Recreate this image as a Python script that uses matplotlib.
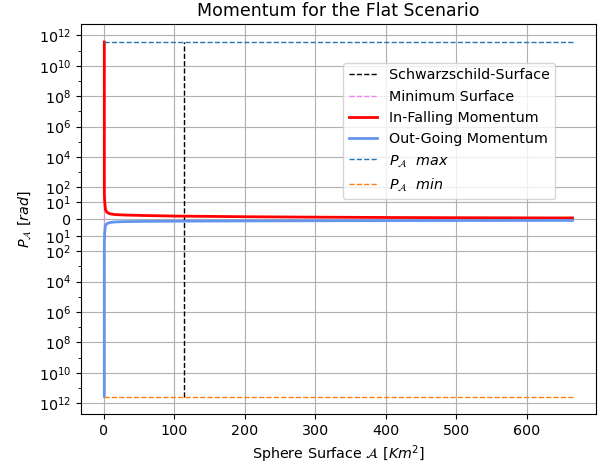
import matplotlib
matplotlib.use("Agg")
import matplotlib.pyplot as plt
from matplotlib.ticker import FixedLocator, FixedFormatter

# values
surface = [0.5, 0.5001, 0.501, 0.51, 0.6, 1, 2, 4, 8, 15, 30, 60, 100,
           200, 300, 400, 500, 600, 665]
p_in = [3.7e11, 1e5, 1e3, 100, 30, 12, 6, 4.2, 3.3, 2.8, 2.5, 2.2, 1.9,
        1.5, 1.25, 1.05, 0.92, 0.82, 0.78]
p_out = [-3.7e11, -1e5, -1e3, -100, -25, -8, -4, -2.6, -2.0, -1.6, -1.4,
         -1.25, -1.15, -1.0, -0.9, -0.82, -0.76, -0.72, -0.7]

schwarzschild_surface = 113
minimum_surface = 0.5
p_max = 3.7e11
p_min = -3.7e11
surface_end = 665

major_exp = [12, 10, 8, 6, 4, 2, 1]
minor_exp = [11, 9, 7, 5, 3]

plt.rcParams['font.size'] = 10.3

fig, ax = plt.subplots(figsize=(6.1, 4.67), dpi=100)
fig.subplots_adjust(left=0.132, right=0.977, top=0.948, bottom=0.113)

ax.vlines(schwarzschild_surface, p_min, p_max, colors='k', linestyles='--',
          lw=1, label='Schwarzschild-Surface')
ax.vlines(minimum_surface, p_min, p_max, colors='violet', linestyles='--',
          lw=1, label='Minimum Surface')
ax.plot(surface, p_in, color='red', lw=2, label='In-Falling Momentum')
ax.plot(surface, p_out, color='cornflowerblue', lw=2, label='Out-Going Momentum')
ax.hlines(p_max, 0, surface_end, colors='tab:blue', linestyles='--', lw=1,
          label=r'$P_\mathcal{A}$  $max$')
ax.hlines(p_min, 0, surface_end, colors='tab:orange', linestyles='--', lw=1,
          label=r'$P_\mathcal{A}$  $min$')

ax.set_yscale('symlog', linthresh=10)
yt = [10.0 ** e for e in major_exp] + [0] + [-10.0 ** e for e in major_exp[::-1]]
ylab = [r'$10^{%d}$' % e for e in major_exp] + ['0'] + \
       [r'$10^{%d}$' % e for e in major_exp[::-1]]
ax.yaxis.set_major_locator(FixedLocator(yt))
ax.yaxis.set_major_formatter(FixedFormatter(ylab))
ax.yaxis.set_minor_locator(FixedLocator([10.0 ** e for e in minor_exp] +
                                        [-10.0 ** e for e in minor_exp]))

ax.grid(True)
ax.set_title('Momentum for the Flat Scenario', fontsize=12.5)
ax.set_xlabel(r'Sphere Surface $\mathcal{A}$ $[Km^2]$')
ax.set_ylabel(r'$P_\mathcal{A}$ $[rad]$')
ax.legend(loc='lower left', bbox_to_anchor=(0.4955, 0.534))

fig.savefig('out.png', dpi=100)
